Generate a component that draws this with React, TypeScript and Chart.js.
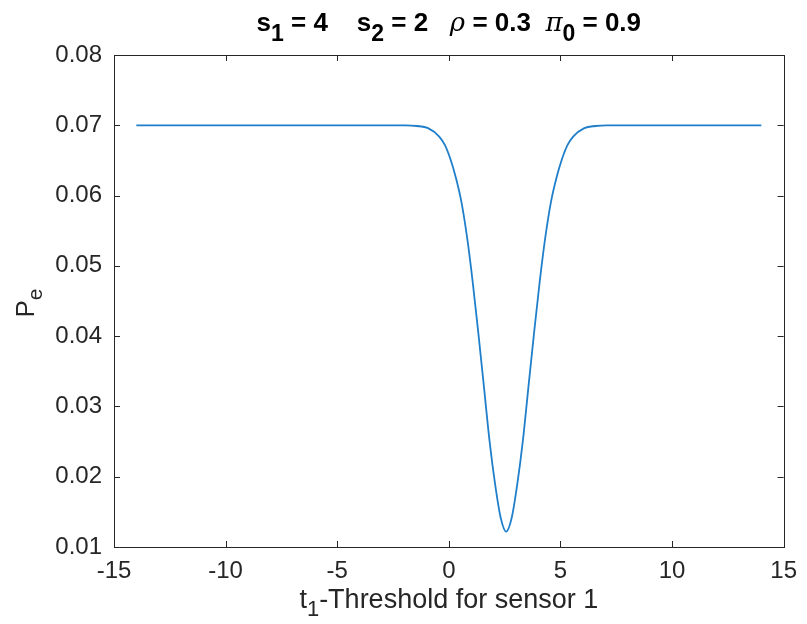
import React, { useEffect, useRef } from "react";
import { Chart, registerables } from "chart.js";

Chart.register(...registerables);

const thresholds = [
  -14, -8, -3, -1.93, -1.43, -0.93, -0.43, -0.18, 0.07, 0.32, 0.57, 0.82, 1.07,
  1.32, 1.57, 1.82, 2.07, 2.32, 2.57, 2.82, 3.07, 3.32, 3.57, 3.82, 4.07, 4.32,
  4.57, 4.82, 5.07, 5.32, 5.57, 6.07, 6.57, 7.07, 10, 14,
];
const errorProb = [
  0.07, 0.07, 0.07, 0.07, 0.0699, 0.0696, 0.0684, 0.0672, 0.0652, 0.0625,
  0.059, 0.054, 0.0477, 0.0405, 0.0329, 0.0252, 0.019, 0.0142, 0.0122, 0.0142,
  0.019, 0.0252, 0.0329, 0.0405, 0.0477, 0.054, 0.059, 0.0625, 0.0652, 0.0672,
  0.0684, 0.0696, 0.0699, 0.07, 0.07, 0.07,
];
const xTicks = [-15, -10, -5, 0, 5, 10, 15];
const yTicks = [0.01, 0.02, 0.03, 0.04, 0.05, 0.06, 0.07, 0.08];

const AX = "#262626";
const FONT = "'Liberation Sans', Arial, Helvetica, sans-serif";

type Seg = { t: string; sub?: boolean; italic?: boolean; serif?: boolean };

function drawSegs(
  ctx: CanvasRenderingContext2D,
  segs: Seg[],
  cx: number,
  y: number,
  size: number,
  weight: string,
  subScale: number,
  subShift: number
) {
  const fontOf = (s: Seg) => {
    const sz = s.sub ? Math.round(size * subScale) : size;
    const fam = s.serif ? "'DejaVu Serif', serif" : FONT;
    const st = s.italic ? "italic " : "";
    const w = s.serif ? "normal" : weight;
    return `${st}${w} ${sz}px ${fam}`;
  };
  let total = 0;
  for (const s of segs) {
    ctx.font = fontOf(s);
    total += ctx.measureText(s.t).width;
  }
  let x = cx - total / 2;
  ctx.textAlign = "left";
  ctx.textBaseline = "alphabetic";
  for (const s of segs) {
    ctx.font = fontOf(s);
    ctx.fillText(s.t, x, s.sub ? y + subShift : y);
    x += ctx.measureText(s.t).width;
  }
}

const framePlugin = {
  id: "matlabFrame",
  afterDraw(chart: any) {
    const { ctx, chartArea } = chart;
    const { left, right, top, bottom } = chartArea;
    const xs = chart.scales.x;
    const ys = chart.scales.y;
    ctx.save();
    ctx.strokeStyle = AX;
    ctx.lineWidth = 1;
    ctx.strokeRect(Math.round(left) + 0.5, Math.round(top) + 0.5, Math.round(right - left), Math.round(bottom - top));
    const tl = 6;
    ctx.beginPath();
    for (const v of xTicks) {
      const px = Math.round(xs.getPixelForValue(v)) + 0.5;
      ctx.moveTo(px, bottom);
      ctx.lineTo(px, bottom - tl);
      ctx.moveTo(px, top);
      ctx.lineTo(px, top + tl);
    }
    for (const v of yTicks) {
      const py = Math.round(ys.getPixelForValue(v)) + 0.5;
      ctx.moveTo(left, py);
      ctx.lineTo(left + tl, py);
      ctx.moveTo(right, py);
      ctx.lineTo(right - tl, py);
    }
    ctx.stroke();

    ctx.fillStyle = "#000";
    drawSegs(
      ctx,
      [
        { t: "s" },
        { t: "1", sub: true },
        { t: " = 4    s" },
        { t: "2", sub: true },
        { t: " = 2   " },
        { t: "ρ", italic: true, serif: true },
        { t: " = 0.3  " },
        { t: "π", italic: true, serif: true },
        { t: "0", sub: true },
        { t: " = 0.9" },
      ],
      (left + right) / 2,
      31,
      26,
      "bold",
      0.88,
      10
    );

    ctx.fillStyle = AX;
    drawSegs(
      ctx,
      [{ t: "t" }, { t: "1", sub: true }, { t: "-Threshold for sensor 1" }],
      (left + right) / 2,
      608,
      27,
      "normal",
      0.8,
      8
    );

    ctx.save();
    ctx.translate(34, (top + bottom) / 2 + 2);
    ctx.rotate(-Math.PI / 2);
    drawSegs(ctx, [{ t: "P" }, { t: "e", sub: true }], 0, 0, 26, "normal", 0.8, 8);
    ctx.restore();
    ctx.restore();
  },
};

export default function App() {
  const ref = useRef<HTMLCanvasElement | null>(null);
  useEffect(() => {
    document.body.style.margin = "0";
    const canvas = ref.current!;
    const chart = new Chart(canvas, {
      type: "line",
      data: {
        datasets: [
          {
            data: thresholds.map((t, i) => ({ x: t, y: errorProb[i] })),
            borderColor: "#1f7fcb",
            borderWidth: 1.8,
            pointRadius: 0,
            cubicInterpolationMode: "monotone",
            fill: false,
          },
        ],
      },
      options: {
        animation: false,
        responsive: false,
        maintainAspectRatio: false,
        layout: { padding: { left: 0, right: 17, top: 55, bottom: 0 } },
        plugins: { legend: { display: false }, tooltip: { enabled: false }, title: { display: false } },
        scales: {
          x: {
            type: "linear",
            min: -15,
            max: 15,
            afterBuildTicks: (s: any) => {
              s.ticks = xTicks.map((v) => ({ value: v }));
            },
            afterFit: (s: any) => {
              s.height = 77;
            },
            grid: { display: false, drawTicks: false },
            border: { display: false },
            ticks: {
              padding: 10,
              color: AX,
              font: { size: 24, family: FONT },
              maxRotation: 0,
              callback: (v: any) => String(v),
            },
          },
          y: {
            type: "linear",
            min: 0.01,
            max: 0.08,
            afterBuildTicks: (s: any) => {
              s.ticks = yTicks.map((v) => ({ value: v }));
            },
            afterFit: (s: any) => {
              s.width = 114;
            },
            grid: { display: false, drawTicks: false },
            border: { display: false },
            ticks: {
              padding: 12,
              color: AX,
              font: { size: 24, family: FONT },
              callback: (v: any) => Number(v).toFixed(2),
            },
          },
        },
      },
      plugins: [framePlugin],
    });
    return () => chart.destroy();
  }, []);
  return <canvas ref={ref} width={807} height={624} style={{ display: "block" }} />;
}
